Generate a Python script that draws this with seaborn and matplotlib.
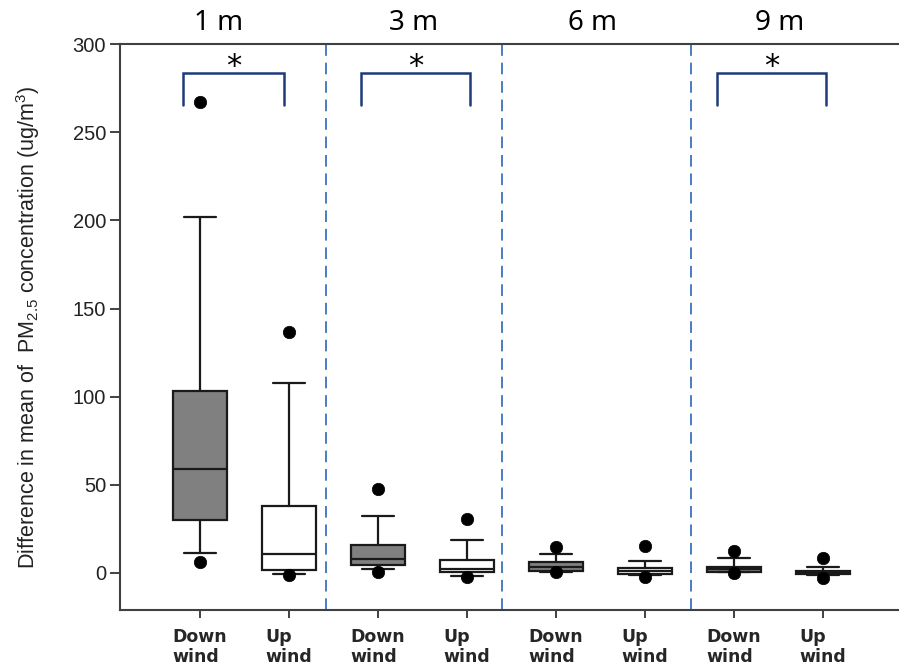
import numpy as np
import pandas as pd
import matplotlib
matplotlib.use("Agg")
import matplotlib.pyplot as plt
import seaborn as sns

# ---- data ----
heights = ["1 m", "3 m", "6 m", "9 m"]
box_labels = ["Down\nwind", "Up\nwind"] * 4
whisker_high = [202.0, 108.0, 32.5, 18.9, 10.8, 6.6, 8.7, 3.2]
q3_values = [103.0, 38.0, 15.9, 7.4, 6.0, 2.6, 3.6, 1.3]
median_values = [59.0, 10.6, 7.8, 2.3, 3.6, 1.1, 2.3, 0.6]
q1_values = [30.0, 1.7, 4.4, 0.4, 1.3, -0.6, 0.8, -0.6]
whisker_low = [11.5, -0.6, 2.3, -1.5, 0.5, -1.0, 0.3, -1.0]
outlier_high = [267.0, 136.5, 47.8, 30.6, 14.6, 15.5, 12.5, 8.7]
outlier_low = [6.4, -1.1, 0.8, -2.5, 0.8, -2.5, -0.2, -3.0]
significant = [True, True, False, True]
y_ticks = [0, 50, 100, 150, 200, 250, 300]

# ---- style ----
sns.set_style("ticks")
plt.rcParams["font.family"] = ["Liberation Sans", "DejaVu Sans"]
plt.rcParams["mathtext.fontset"] = "custom"
plt.rcParams["mathtext.rm"] = "Liberation Sans"
plt.rcParams["mathtext.it"] = "Liberation Sans:italic"

fig = plt.figure(figsize=(8.99, 6.68), dpi=100)
ax = fig.add_axes([0.1335, 0.0868, 0.8665, 0.8472])

n = len(box_labels)
positions = np.arange(n)
fills = ["#808080" if i % 2 == 0 else "white" for i in range(n)]

stats = []
for i in range(n):
    stats.append(dict(med=median_values[i], q1=q1_values[i], q3=q3_values[i],
                      whislo=whisker_low[i], whishi=whisker_high[i], fliers=[]))

line_kw = dict(color="#1a1a1a", linewidth=1.6)
bp = ax.bxp(stats, positions=positions, widths=0.606, capwidths=0.36,
            patch_artist=True, showfliers=False,
            boxprops=dict(edgecolor="#1a1a1a", linewidth=1.6),
            medianprops=line_kw, whiskerprops=line_kw, capprops=line_kw)
for patch, fc in zip(bp["boxes"], fills):
    patch.set_facecolor(fc)

# outliers via seaborn
out_df = pd.DataFrame({
    "pos": np.concatenate([positions, positions]),
    "value": outlier_high + outlier_low,
})
sns.scatterplot(data=out_df, x="pos", y="value", ax=ax, color="black",
                s=80, edgecolor="black", linewidth=0.5, zorder=5, legend=False)

# group separators
for xs in [1.414, 3.397, 5.516]:
    ax.axvline(xs, color="#4a7cc4", linewidth=1.4, dashes=(6, 3.5), zorder=1)

# significance brackets
bracket_color = "#1f3a7a"
for g, sig in enumerate(significant):
    if not sig:
        continue
    x0 = 2 * g - 0.19
    x1 = 2 * g + 1.03 if g > 0 else 2 * g + 0.94
    ax.plot([x0, x0, x1, x1], [265.5, 283.5, 283.5, 265.5],
            color=bracket_color, linewidth=1.8, solid_joinstyle="miter")
    ax.text((x0 + x1) / 2, 279, "*", ha="center", va="bottom",
            fontsize=22, color="black", family="DejaVu Sans")

# height titles above the axes
title_x = [0.21, 2.4, 4.41, 6.51]
for hx, h in zip(title_x, heights):
    ax.text(hx, 1.012, h, transform=ax.get_xaxis_transform(), ha="center",
            va="bottom", fontsize=20, family=["Noto Sans", "DejaVu Sans"],
            color="black")

# axes
ax.set_xlim(-0.899, 7.854)
ax.set_ylim(-21, 300)
ax.set_yticks(y_ticks)
ax.set_yticklabels([str(t) for t in y_ticks], fontsize=14.5, color="#222222")
ax.set_xticks(positions)
ax.set_xticklabels(box_labels, fontsize=12.5, fontweight="bold",
                   multialignment="left", linespacing=1.15,
                   family=["DejaVu Sans"])
ax.tick_params(axis="y", direction="out", length=7, width=1.3, pad=3, color="#333333")
ax.tick_params(axis="x", direction="out", length=6, width=1.3, pad=7, color="#333333")
for side in ["left", "bottom", "top"]:
    ax.spines[side].set_color("#404040")
    ax.spines[side].set_linewidth(1.5)
ax.spines["right"].set_visible(False)
ax.set_xlabel("")
ax.set_ylabel("Difference in mean of  PM$_{2.5}$ concentration (ug/m$^3$)",
              fontsize=15.5, color="#222222", labelpad=22)

fig.savefig("out.png", dpi=100)
